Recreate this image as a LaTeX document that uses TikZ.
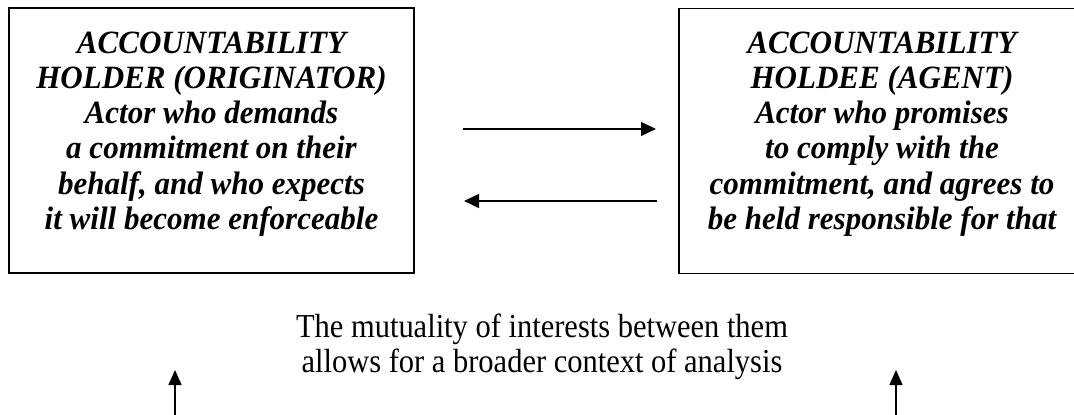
\documentclass[tikz,border=0pt]{standalone}
\usepackage{fontspec}
\setmainfont{Liberation Serif}
\newfontfamily\boxfont[FakeStretch=0.955]{Liberation Serif}
\newfontfamily\notefont[FakeStretch=0.91]{Liberation Serif}
\usetikzlibrary{arrows.meta}
\tikzset{
  boxframe/.style={draw, line width=1.6pt, inner sep=0pt, minimum width=#1, minimum height=265pt},
  boxtext/.style={align=center, inner sep=0pt, font=\boxfont\fontsize{32.5}{35.2}\selectfont\bfseries\itshape},
  note/.style={align=center, inner sep=0pt, font=\notefont\fontsize{33.5}{35}\selectfont},
  conn/.style={line width=1.4pt, -{Triangle[length=15pt,width=14pt]}},
  upconn/.style={line width=1.4pt, -{Triangle[length=15pt,width=13pt]}}
}
\begin{document}
\begin{tikzpicture}[x=1pt,y=-1pt]
\useasboundingbox (0,0) rectangle (1074,415);
% boxes
\node[boxframe=405pt] (holder) at (211.5,140.5) {};
\node[boxframe=406pt] (holdee) at (882,141) {};
\node[boxtext] (holdertext) at (211.5,134) {ACCOUNTABILITY\\HOLDER (ORIGINATOR)\\Actor who demands\\a commitment on their\\behalf, and who expects\\it will become enforceable};
\node[boxtext] (holdeetext) at (882,134) {ACCOUNTABILITY\\HOLDEE (AGENT)\\Actor who promises\\to comply with the\\commitment, and agrees to\\be held responsible for that};
% horizontal connectors
\coordinate (rs) at (463,129);
\coordinate (re) at (656,129);
\coordinate (ls) at (657,201);
\coordinate (le) at (464,201);
\draw[conn] (rs) -- (re);
\draw[conn] (ls) -- (le);
% note
\node[note] (mutual) at (542,346.4) {The mutuality of interests between them\\allows for a broader context of analysis};
% vertical connectors
\coordinate (lb) at (175,416);
\coordinate (lt) at (175,370);
\coordinate (rb) at (896,416);
\coordinate (rt) at (896,370);
\draw[upconn] (lb) -- (lt);
\draw[upconn] (rb) -- (rt);
\end{tikzpicture}
\end{document}
